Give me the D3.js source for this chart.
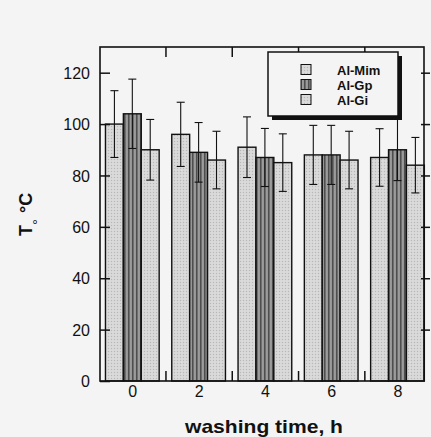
<!DOCTYPE html>
<meta charset="utf-8">
<script src="https://d3js.org/d3.v7.min.js"></script>
<style>
  body { margin: 0; background: #f4f4f4; }
  text { font-family: "Liberation Sans", Arial, Helvetica, sans-serif; fill: #111; }
</style>
<div id="chart"></div>
<script>
// Data
const hours = [0, 2, 4, 6, 8];
const seriesNames = ["Al-Mim", "Al-Gp", "Al-Gi"];
const mimValues = [100, 96, 91, 88, 87];
const mimErrors = [13, 12.5, 11.8, 11.5, 11.2];
const gpValues = [104, 89, 87, 88, 90];
const gpErrors = [13.5, 11.6, 11.3, 11.5, 12];
const giValues = [90, 86, 85, 86, 84];
const giErrors = [11.8, 11.2, 11.2, 11.2, 10.8];
const yTicks = [0, 20, 40, 60, 80, 100, 120];
const xTicks = [0, 2, 4, 6, 8];
const xMinorTicks = [1, 3, 5, 7];

const W = 431, H = 437;
const plot = {left: 100, right: 424, top: 47, bottom: 381};

const svg = d3.select("#chart").append("svg")
    .attr("width", W)
    .attr("height", H);

svg.append("rect").attr("width", W).attr("height", H).attr("fill", "#f4f4f4");

// fill patterns
const defs = svg.append("defs");
const dots = defs.append("pattern")
    .attr("id", "dots").attr("patternUnits", "userSpaceOnUse")
    .attr("width", 3).attr("height", 3);
dots.append("rect").attr("width", 3).attr("height", 3).attr("fill", "#d6d6d6");
dots.append("rect").attr("x", 0).attr("y", 0).attr("width", 1).attr("height", 1).attr("fill", "#b8b8b8");
dots.append("rect").attr("x", 1.5).attr("y", 1.5).attr("width", 1).attr("height", 1).attr("fill", "#e6e6e6");

const stripes = defs.append("pattern")
    .attr("id", "stripes").attr("patternUnits", "userSpaceOnUse")
    .attr("width", 4).attr("height", 4);
stripes.append("rect").attr("width", 4).attr("height", 4).attr("fill", "#8e8e8e");
stripes.append("rect").attr("x", 0).attr("width", 1.5).attr("height", 4).attr("fill", "#4e4e4e");
stripes.append("rect").attr("x", 2.5).attr("width", 0.8).attr("height", 4).attr("fill", "#a8a8a8");

const fills = ["url(#dots)", "url(#stripes)", "url(#dots)"];

// scales
const x = d3.scaleLinear().domain([-0.975, 8.8]).range([plot.left, plot.right]);
const y = d3.scaleLinear().domain([0, 130]).range([plot.bottom, plot.top]);

const barW = 0.54;
const offsets = [-barW, 0, barW];

const table = [];
hours.forEach((h, i) => {
    [mimValues, gpValues, giValues].forEach((vals, s) => {
        const errs = [mimErrors, gpErrors, giErrors][s];
        table.push({hour: h, s: s, value: vals[i], err: errs[i]});
    });
});

// bars
svg.append("g")
  .selectAll("rect")
  .data(table)
  .join("rect")
    .attr("x", d => x(d.hour + offsets[d.s] - barW / 2))
    .attr("y", d => y(d.value))
    .attr("width", d => x(barW) - x(0))
    .attr("height", d => y(0) - y(d.value))
    .attr("fill", d => fills[d.s])
    .attr("stroke", "#111")
    .attr("stroke-width", 1.4);

// error bars
const eb = svg.append("g").attr("stroke", "#111").attr("stroke-width", 1.1);
eb.selectAll("line.v")
  .data(table)
  .join("line")
    .attr("class", "v")
    .attr("x1", d => x(d.hour + offsets[d.s]))
    .attr("x2", d => x(d.hour + offsets[d.s]))
    .attr("y1", d => y(d.value + d.err))
    .attr("y2", d => y(d.value - d.err));
eb.selectAll("line.top")
  .data(table)
  .join("line")
    .attr("class", "top")
    .attr("x1", d => x(d.hour + offsets[d.s]) - 4)
    .attr("x2", d => x(d.hour + offsets[d.s]) + 4)
    .attr("y1", d => y(d.value + d.err))
    .attr("y2", d => y(d.value + d.err));
eb.selectAll("line.bot")
  .data(table)
  .join("line")
    .attr("class", "bot")
    .attr("x1", d => x(d.hour + offsets[d.s]) - 4)
    .attr("x2", d => x(d.hour + offsets[d.s]) + 4)
    .attr("y1", d => y(d.value - d.err))
    .attr("y2", d => y(d.value - d.err));

// axes
const axisStyle = g => {
    g.select(".domain").remove();
    g.selectAll(".tick line").attr("stroke", "#111").attr("stroke-width", 1.5);
    g.selectAll(".tick text").attr("font-size", 16).attr("fill", "#111")
        .attr("font-family", '"Liberation Sans", Arial, sans-serif');
};

// left axis, ticks pointing inward
svg.append("g")
    .attr("transform", `translate(${plot.left},0)`)
    .call(d3.axisRight(y).tickValues(yTicks).tickSize(10).tickFormat(""))
    .call(axisStyle);
svg.append("g")
    .attr("transform", `translate(${plot.left},0)`)
    .call(d3.axisLeft(y).tickValues(yTicks).tickSize(0).tickPadding(10))
    .call(axisStyle)
    .selectAll(".tick text").attr("dy", "0.36em");

// right axis ticks
svg.append("g")
    .attr("transform", `translate(${plot.left + (plot.right - plot.left) - 3},0)`)
    .call(d3.axisRight(y).tickValues(yTicks.filter(v => v > 0)).tickSize(9).tickFormat(""))
    .call(axisStyle);

// bottom axis
svg.append("g")
    .attr("transform", `translate(0,${plot.bottom})`)
    .call(d3.axisBottom(x).tickValues(xTicks).tickSize(0).tickPadding(5))
    .call(axisStyle);
svg.append("g")
    .attr("transform", `translate(0,${plot.bottom})`)
    .call(d3.axisTop(x).tickValues(xMinorTicks).tickSize(10).tickFormat(""))
    .call(axisStyle);

// top ticks
svg.append("g")
    .attr("transform", `translate(0,${plot.top})`)
    .call(d3.axisBottom(x).tickValues(xMinorTicks).tickSize(10).tickFormat(""))
    .call(axisStyle);

// frame
svg.append("rect")
    .attr("x", plot.left).attr("y", plot.top)
    .attr("width", plot.right - plot.left)
    .attr("height", plot.bottom - plot.top)
    .attr("fill", "none")
    .attr("stroke", "#111")
    .attr("stroke-width", 1.6);

// legend
const lg = svg.append("g").attr("transform", "translate(268,52)");
lg.append("rect").attr("x", 4).attr("y", 4).attr("width", 130).attr("height", 64).attr("fill", "#111");
lg.append("rect").attr("x", 0).attr("y", 0).attr("width", 130).attr("height", 64)
    .attr("fill", "#f4f4f4").attr("stroke", "#111").attr("stroke-width", 1.5);
seriesNames.forEach((name, i) => {
    lg.append("rect")
        .attr("x", 33).attr("y", 12.5 + i * 15)
        .attr("width", 10).attr("height", 10)
        .attr("fill", fills[i]).attr("stroke", "#111").attr("stroke-width", 1);
    lg.append("text")
        .attr("x", 69).attr("y", 22.5 + i * 15)
        .attr("font-size", 13).attr("font-weight", "bold")
        .text(name);
});

// axis titles
svg.append("text")
    .attr("x", 264).attr("y", 433)
    .attr("text-anchor", "middle")
    .attr("font-size", 19).attr("font-weight", "bold")
    .attr("textLength", 158).attr("lengthAdjust", "spacingAndGlyphs")
    .text("washing time, h");

const yl = svg.append("text")
    .attr("transform", "translate(32,236) rotate(-90)")
    .attr("font-size", 18).attr("font-weight", "bold");
yl.append("tspan").text("T");
yl.append("tspan").attr("dy", 11).attr("font-size", 15).attr("font-weight", "normal").text("°");
yl.append("tspan").attr("dy", -11).attr("dx", 6).text("°C");
</script>
</html>
